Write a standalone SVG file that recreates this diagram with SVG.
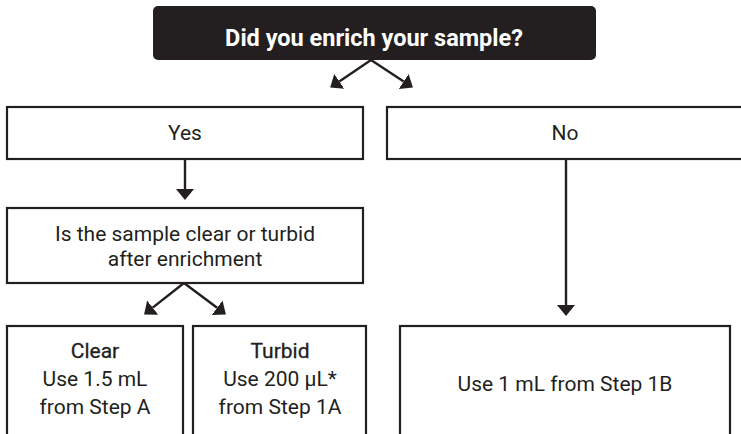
<svg xmlns="http://www.w3.org/2000/svg" width="741" height="434" viewBox="0 0 741 434">
<defs>
<style>
.box{fill:#fff;stroke:#231f20;stroke-width:2.2}
.t{font-family:Roboto,"Liberation Sans",sans-serif;font-size:21px;fill:#231f20;text-anchor:middle}
.h{stroke:#231f20;stroke-width:0.3}
.title{font-family:Roboto,"Liberation Sans",sans-serif;font-size:23.5px;font-weight:700;fill:#fff;text-anchor:middle}
.c{fill:none;stroke:#231f20;stroke-width:2.4}
</style>
<marker id="ah" markerUnits="userSpaceOnUse" markerWidth="14" markerHeight="22" refX="0" refY="10" orient="auto" viewBox="0 0 14 20">
<path d="M0,1 L11,10 L0,19 Z" fill="#231f20"/>
</marker>
</defs>
<g id="start">
<rect x="153" y="6" width="443" height="54" rx="5" fill="#231f20"/>
<text class="title" x="374" y="46">Did you enrich your sample?</text>
</g>
<g id="yes">
<rect class="box" x="7" y="107" width="356" height="52"/>
<text class="t" x="185" y="140">Yes</text>
</g>
<g id="no">
<rect class="box" x="387" y="107" width="370" height="52"/>
<text class="t" x="565" y="140">No</text>
</g>
<g id="question">
<rect class="box" x="7" y="208" width="356" height="75"/>
<text class="t" x="185" y="241">Is the sample clear or turbid</text>
<text class="t" x="185" y="266">after enrichment</text>
</g>
<g id="clear">
<rect class="box" x="7" y="326" width="176" height="130"/>
<text class="t h" x="95" y="358">Clear</text>
<text class="t" x="95" y="386">Use 1.5 mL</text>
<text class="t" x="95" y="414">from Step A</text>
</g>
<g id="turbid">
<rect class="box" x="193" y="326" width="173" height="130"/>
<text class="t h" x="280" y="358">Turbid</text>
<text class="t" x="280" y="386">Use 200 µL*</text>
<text class="t" x="280" y="414">from Step 1A</text>
</g>
<g id="nobranch">
<rect class="box" x="400" y="326" width="330" height="130"/>
<text class="t" x="565" y="391">Use 1 mL from Step 1B</text>
</g>
<g id="connectors">
<path class="c" d="M371,60 L339.3,81.4" marker-end="url(#ah)"/>
<path class="c" d="M371,60 L403.7,81.5" marker-end="url(#ah)"/>
<path class="c" d="M185,160 L185,189" marker-end="url(#ah)"/>
<path class="c" d="M566,160 L566,305" marker-end="url(#ah)"/>
<path class="c" d="M184,283 L152.7,307.6" marker-end="url(#ah)"/>
<path class="c" d="M184,283 L217.1,307.8" marker-end="url(#ah)"/>
</g>
</svg>
